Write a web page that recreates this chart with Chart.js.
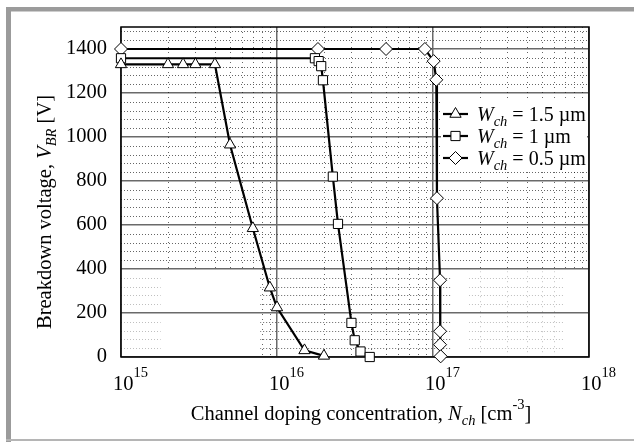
<!DOCTYPE html>
<html>
<head>
<meta charset="utf-8">
<script src="https://cdn.jsdelivr.net/npm/chart.js@4.4.0/dist/chart.umd.min.js"></script>
<style>
  html, body { margin: 0; padding: 0; background: #fff; }
  canvas { display: block; }
</style>
</head>
<body>
<canvas id="myChart" width="634" height="442"></canvas>
<script>
// channel doping (cm^-3) and breakdown voltage (V) per channel width
const triangleN = [1e15, 2e15, 2.5e15, 3e15, 4e15, 5e15, 7e15, 9e15, 1e16, 1.5e16, 2e16];
const triangleV = [1330, 1330, 1330, 1330, 1330, 965, 585, 315, 225, 30, 5];
const squareN = [1e15, 1.75e16, 1.85e16, 1.92e16, 1.97e16, 2.28e16, 2.46e16, 3e16, 3.15e16, 3.43e16, 3.93e16];
const squareV = [1358, 1358, 1345, 1322, 1258, 820, 605, 155, 76, 25, 0];
const diamondN = [1e15, 1.83e16, 5e16, 8.87e16, 1.01e17, 1.05e17, 1.06e17, 1.11e17, 1.11e17, 1.11e17, 1.12e17];
const diamondV = [1400, 1400, 1400, 1400, 1345, 1260, 722, 349, 117, 56, 3];

const widthLabels = ['1.5', '1', '0.5'];
const pointStyles = ['triangle', 'rect', 'rectRot'];
const yTicks = [0, 200, 400, 600, 800, 1000, 1200, 1400];
const xDecades = [15, 16, 17, 18];

const SERIF = "'Liberation Serif', 'Times New Roman', serif";

function toPoints(xs, ys) {
    return xs.map((x, i) => ({ x: x, y: ys[i] }));
}

// draw a run of text pieces (italic / sub / sup) starting at x
function richWidth(ctx, parts) {
    let w = 0;
    for (const p of parts) {
        ctx.font = (p.it ? 'italic ' : '') + p.size + 'px ' + SERIF;
        w += ctx.measureText(p.t).width;
    }
    return w;
}
function drawRich(ctx, parts, x, y, align) {
    const w = richWidth(ctx, parts);
    let cx = align === 'center' ? x - w / 2 : x;
    ctx.textAlign = 'left';
    ctx.textBaseline = 'alphabetic';
    ctx.fillStyle = '#000';
    for (const p of parts) {
        ctx.font = (p.it ? 'italic ' : '') + p.size + 'px ' + SERIF;
        ctx.fillText(p.t, cx, y + (p.dy || 0));
        cx += ctx.measureText(p.t).width;
    }
}

const minorGrid = {
    id: 'minorGrid',
    beforeDatasetsDraw(chart) {
        const ctx = chart.ctx, xs = chart.scales.x, ys = chart.scales.y;
        function dotted(x0, x1, y0, y1, color) {
            const l = xs.getPixelForValue(x0), r = xs.getPixelForValue(x1);
            const t = ys.getPixelForValue(y1), b = ys.getPixelForValue(y0);
            ctx.save();
            ctx.beginPath();
            ctx.rect(l, t, r - l, b - t);
            ctx.clip();
            ctx.strokeStyle = color;
            ctx.lineWidth = 1;
            // vertical minor lines
            ctx.setLineDash([1, 4]);
            ctx.beginPath();
            for (const d of xDecades) {
                for (let m = 2; m <= 9; m++) {
                    const px = Math.round(xs.getPixelForValue(m * Math.pow(10, d))) + 0.5;
                    ctx.moveTo(px, t);
                    ctx.lineTo(px, b);
                }
            }
            ctx.stroke();
            // horizontal minor lines
            ctx.setLineDash([1, 2]);
            ctx.beginPath();
            for (let v = 40; v < 1500; v += 40) {
                if (v % 200 === 0) continue;
                const py = Math.round(ys.getPixelForValue(v)) + 0.5;
                ctx.moveTo(l, py);
                ctx.lineTo(r, py);
            }
            ctx.stroke();
            ctx.restore();
        }
        dotted(1e15, 1e18, 400, 1500, 'rgba(0,0,0,0.6)');
        dotted(7.8e15, 1.3e17, 0, 400, 'rgba(0,0,0,0.6)');
        dotted(1e15, 1.8e15, 0, 360, 'rgba(0,0,0,0.25)');
        dotted(1.7e17, 6.9e17, 0, 390, 'rgba(0,0,0,0.25)');

        // plot frame
        const a = chart.chartArea;
        ctx.save();
        ctx.strokeStyle = '#000';
        ctx.lineWidth = 1.5;
        ctx.strokeRect(a.left, a.top, a.right - a.left, a.bottom - a.top);
        ctx.restore();
    }
};

const texts = {
    id: 'texts',
    afterDraw(chart) {
        const ctx = chart.ctx, xs = chart.scales.x;
        ctx.save();

        // grey page frame
        ctx.fillStyle = '#9b9b9b';
        ctx.fillRect(6, 7, 628, 4.5);
        ctx.fillRect(6, 7, 5, 435);
        ctx.fillStyle = '#b5b5b5';
        ctx.fillRect(6, 439, 628, 2);

        // x tick labels 10^n
        for (const d of xDecades) {
            const px = xs.getPixelForValue(Math.pow(10, d));
            drawRich(ctx, [
                { t: '10', size: 20.5 },
                { t: String(d), size: 14.5, dy: -13 }
            ], px - 8, 390, 'left');
        }

        // x title
        drawRich(ctx, [
            { t: 'Channel doping concentration, ', size: 20.5 },
            { t: 'N', size: 20.5, it: true },
            { t: 'ch', size: 14.5, it: true, dy: 5 },
            { t: ' [cm', size: 20.5 },
            { t: '-3', size: 14.5, dy: -11 },
            { t: ']', size: 20.5 }
        ], 361, 420, 'center');

        // y title
        ctx.save();
        ctx.translate(51, 212);
        ctx.rotate(-Math.PI / 2);
        drawRich(ctx, [
            { t: 'Breakdown voltage, ', size: 20.5 },
            { t: 'V', size: 20.5, it: true },
            { t: 'BR', size: 14.5, it: true, dy: 5 },
            { t: ' [V]', size: 20.5 }
        ], 0, 0, 'center');
        ctx.restore();

        // legend
        ctx.fillStyle = '#fff';
        ctx.fillRect(441, 101, 146, 69);
        const rows = [114, 136, 158];
        for (let i = 0; i < widthLabels.length; i++) {
            const cy = rows[i];
            ctx.strokeStyle = '#000';
            ctx.lineWidth = 2.2;
            ctx.beginPath();
            ctx.moveTo(443, cy);
            ctx.lineTo(468, cy);
            ctx.stroke();
            ctx.fillStyle = '#fff';
            ctx.lineWidth = 1;
            Chart.helpers.drawPoint(ctx, { pointStyle: pointStyles[i], radius: 6.5, borderWidth: 1, rotation: 0 }, 455.5, cy);
            drawRich(ctx, [
                { t: 'W', size: 20, it: true },
                { t: 'ch', size: 14.5, it: true, dy: 5 },
                { t: ' = ' + widthLabels[i] + ' \u00b5m', size: 20 }
            ], 477, cy + 6.5, 'left');
        }
        ctx.restore();
    }
};

function series(label, xs, ys, style) {
    return {
        label: label,
        data: toPoints(xs, ys),
        borderColor: '#000',
        borderWidth: 2.2,
        pointStyle: style,
        pointRadius: 6.5,
        pointBackgroundColor: '#fff',
        pointBorderColor: '#000',
        pointBorderWidth: 1,
        tension: 0,
        clip: false
    };
}

const config = {
    type: 'line',
    data: {
        datasets: [
            series('W_ch = 1.5 um', triangleN, triangleV, pointStyles[0]),
            series('W_ch = 1 um', squareN, squareV, pointStyles[1]),
            series('W_ch = 0.5 um', diamondN, diamondV, pointStyles[2])
        ]
    },
    options: {
        responsive: false,
        animation: false,
        layout: { padding: { top: 27, right: 45, left: 0, bottom: 0 } },
        plugins: { legend: { display: false }, tooltip: { enabled: false } },
        scales: {
            x: {
                type: 'logarithmic',
                min: 1e15,
                max: 1e18,
                afterBuildTicks: (scale) => {
                    scale.ticks = xDecades.map(d => ({ value: Math.pow(10, d) }));
                },
                afterFit: (scale) => { scale.height = 85; },
                ticks: { display: false },
                grid: { color: '#6a6a6a', lineWidth: 1.5, drawTicks: false },
                border: { display: false }
            },
            y: {
                type: 'linear',
                min: 0,
                max: 1500,
                afterBuildTicks: (scale) => {
                    scale.ticks = yTicks.map(v => ({ value: v }));
                },
                afterFit: (scale) => { scale.width = 121; },
                ticks: {
                    color: '#000',
                    padding: 14,
                    font: { family: SERIF, size: 20.5 },
                    callback: (v) => String(v)
                },
                grid: { color: '#6a6a6a', lineWidth: 1.5, drawTicks: false },
                border: { display: false }
            }
        }
    },
    plugins: [minorGrid, texts]
};

new Chart(document.getElementById('myChart'), config);
</script>
</body>
</html>
